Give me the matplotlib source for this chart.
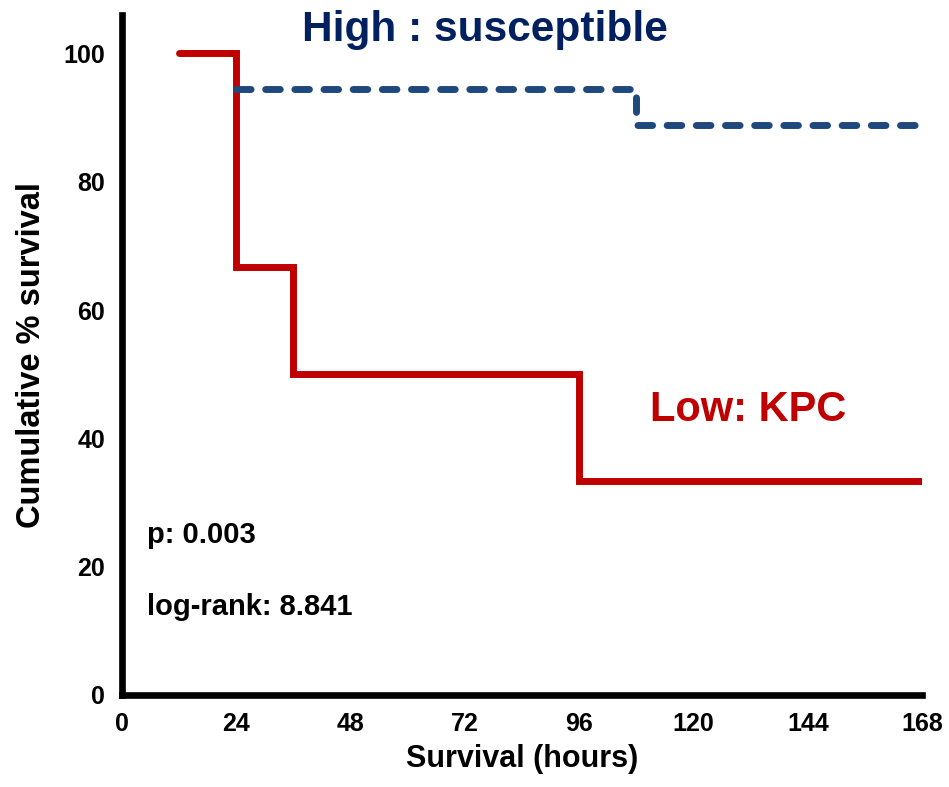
import matplotlib.pyplot as plt
import numpy as np

plt.rcParams['font.family'] = ['Liberation Sans', 'DejaVu Sans']
plt.rcParams['font.weight'] = 'bold'

# Kaplan-Meier steps (hours, % survival)
low_t = [12, 24, 36, 96, 168]
low_s = [100, 66.7, 50, 33.3, 33.3]
high_t = [24, 108, 168]
high_s = [94.4, 88.9, 88.9]

x_ticks = [0, 24, 48, 72, 96, 120, 144, 168]
y_ticks = [0, 20, 40, 60, 80, 100]

fig = plt.figure(figsize=(9.49, 7.87), dpi=100)
ax = fig.add_axes([0.1286, 0.117, 0.843, 0.864])

ax.step(low_t, low_s, where='post', color='#C00000', lw=5,
        solid_capstyle='round', solid_joinstyle='miter')
ax.step(high_t, high_s, where='post', color='#1F497D', lw=5,
        linestyle=(0, (2.1, 2.1)), dash_capstyle='round')

ax.set_xlim(0, 168)
ax.set_ylim(0, 106)
ax.set_xticks(x_ticks)
ax.set_yticks(y_ticks)
ax.tick_params(length=0, labelsize=18, pad=12)
for lab in ax.get_xticklabels() + ax.get_yticklabels():
    lab.set_fontweight('bold')

for s in ['top', 'right']:
    ax.spines[s].set_visible(False)
for s in ['left', 'bottom']:
    ax.spines[s].set_linewidth(4.8)

ax.set_xlabel('Survival (hours)', fontsize=22, fontweight='bold', labelpad=6)
ax.set_ylabel('Cumulative % survival', fontsize=23.5, fontweight='bold', labelpad=12)

ax.text(76.2, 103.6, 'High : susceptible', color='#002060', fontsize=30.5,
        fontweight='bold', ha='center', va='center', clip_on=False)
ax.text(110.9, 44.4, 'Low: KPC', color='#C00000', fontsize=30,
        fontweight='bold', ha='left', va='center')
ax.text(5.25, 24.9, 'p: 0.003', fontsize=21, fontweight='bold', va='center')
ax.text(5.25, 13.7, 'log-rank: 8.841', fontsize=21, fontweight='bold', va='center')

fig.savefig('out.png', dpi=100)
